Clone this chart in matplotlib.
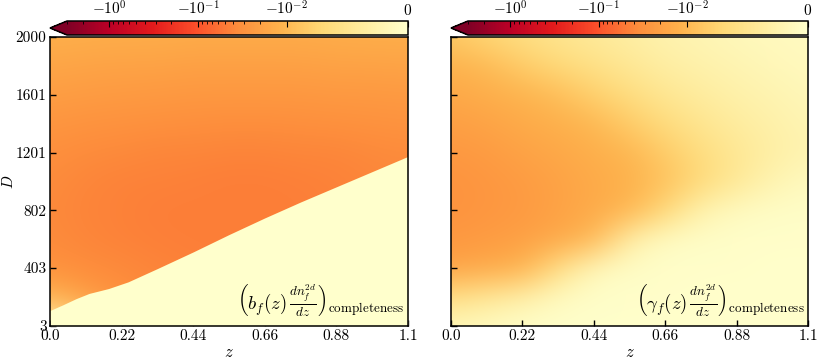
import matplotlib
matplotlib.use("Agg")
import matplotlib.pyplot as plt
from matplotlib.colors import SymLogNorm
import numpy as np

plt.rcParams["font.family"] = "serif"
plt.rcParams["font.serif"] = ["cmr10", "DejaVu Serif"]
plt.rcParams["mathtext.fontset"] = "cm"
plt.rcParams["axes.unicode_minus"] = False
plt.rcParams["axes.formatter.use_mathtext"] = True

# grid nodes
z_nodes = [0.0, 0.11, 0.22, 0.33, 0.44, 0.55, 0.66, 0.77, 0.88, 0.99, 1.1]
D_nodes = [3, 203, 403, 602, 802, 1002, 1201, 1401, 1601, 1800, 2000]

# b_f(z) dn/dz, rows = D (low -> high), cols = z
bias_vals = [
    [-0.001, -0.006, -0.018, -0.030, -0.037, -0.043, -0.045, -0.045, -0.044, -0.042, -0.040],
    [-0.011, -0.022, -0.032, -0.038, -0.042, -0.045, -0.046, -0.046, -0.044, -0.042, -0.040],
    [-0.031, -0.035, -0.038, -0.042, -0.044, -0.046, -0.047, -0.046, -0.044, -0.042, -0.040],
    [-0.036, -0.040, -0.043, -0.045, -0.046, -0.047, -0.047, -0.046, -0.044, -0.042, -0.040],
    [-0.038, -0.042, -0.044, -0.046, -0.047, -0.047, -0.047, -0.046, -0.044, -0.042, -0.040],
    [-0.037, -0.040, -0.043, -0.044, -0.045, -0.046, -0.046, -0.045, -0.043, -0.041, -0.039],
    [-0.033, -0.036, -0.038, -0.040, -0.041, -0.042, -0.042, -0.041, -0.040, -0.038, -0.036],
    [-0.028, -0.030, -0.031, -0.032, -0.033, -0.034, -0.034, -0.033, -0.032, -0.031, -0.030],
    [-0.022, -0.023, -0.024, -0.025, -0.026, -0.026, -0.026, -0.026, -0.025, -0.025, -0.024],
    [-0.017, -0.018, -0.019, -0.019, -0.020, -0.020, -0.020, -0.020, -0.019, -0.019, -0.018],
    [-0.013, -0.0135, -0.014, -0.014, -0.0145, -0.0145, -0.0145, -0.0145, -0.014, -0.0135, -0.0135],
]

# gamma_f(z) dn/dz
gamma_vals = [
    [-0.0015, -0.001, -0.0004, -0.0003, -0.0002, -0.0002, -0.0002, -0.0001, -0.0001, -0.0001, -0.0001],
    [-0.006, -0.0045, -0.003, -0.001, -0.0004, -0.0003, -0.0003, -0.0002, -0.0002, -0.0002, -0.0002],
    [-0.018, -0.015, -0.012, -0.006, -0.0015, -0.0006, -0.0004, -0.0003, -0.0003, -0.0002, -0.0002],
    [-0.026, -0.023, -0.020, -0.016, -0.010, -0.003, -0.0008, -0.0005, -0.0004, -0.0003, -0.0003],
    [-0.030, -0.027, -0.024, -0.019, -0.015, -0.011, -0.007, -0.0025, -0.001, -0.0006, -0.0005],
    [-0.030, -0.027, -0.023, -0.019, -0.015, -0.012, -0.0092, -0.0068, -0.0045, -0.0022, -0.0012],
    [-0.026, -0.023, -0.019, -0.016, -0.013, -0.0105, -0.0082, -0.0062, -0.0046, -0.0032, -0.0022],
    [-0.021, -0.018, -0.015, -0.0125, -0.0102, -0.0082, -0.0064, -0.0049, -0.0037, -0.0028, -0.002],
    [-0.016, -0.0135, -0.0112, -0.0095, -0.0078, -0.0062, -0.0047, -0.0037, -0.0028, -0.0022, -0.0016],
    [-0.0115, -0.0098, -0.0082, -0.0068, -0.0057, -0.0045, -0.0034, -0.0027, -0.0021, -0.0016, -0.0012],
    [-0.0085, -0.0072, -0.006, -0.005, -0.0041, -0.0033, -0.0025, -0.002, -0.0015, -0.0012, -0.001],
]

# completeness limit of the b_f panel
cut_z = [0.0, 0.04, 0.08, 0.12, 0.18, 0.24, 0.33, 0.44, 0.55, 0.66, 0.77, 0.88, 0.99, 1.1]
cut_D = [110, 150, 192, 228, 262, 308, 400, 515, 635, 750, 860, 965, 1070, 1175]

x_ticks = [0.0, 0.22, 0.44, 0.66, 0.88, 1.1]
x_labels = ["0.0", "0.22", "0.44", "0.66", "0.88", "1.1"]
y_ticks = [3, 403, 802, 1201, 1601, 2000]
y_labels = ["3", "403", "802", "1201", "1601", "2000"]

cb_ticks = [-1, -0.1, -0.01, 0]
cb_labels = [r"$-10^{0}$", r"$-10^{-1}$", r"$-10^{-2}$", r"$0$"]
cb_minor = [-3, -2, -0.9, -0.8, -0.7, -0.6, -0.5, -0.4, -0.3, -0.2,
            -0.09, -0.08, -0.07, -0.06, -0.05, -0.04, -0.03, -0.02]

labels = [r"$\left(b_f(z)\,\frac{dn_f^{2d}}{dz}\right)_{\rm completeness}$",
          r"$\left(\gamma_f(z)\,\frac{dn_f^{2d}}{dz}\right)_{\rm completeness}$"]

cmap = plt.get_cmap("YlOrRd_r")
norm = SymLogNorm(linthresh=0.01, linscale=1.23, vmin=-3, vmax=0, base=10)

W, H = 817, 363
fig = plt.figure(figsize=(W / 100, H / 100), dpi=100)


def px_box(x0, y0, x1, y1):
    return [x0 / W, 1 - y1 / H, (x1 - x0) / W, (y1 - y0) / H]


def draw_panel(ax, cax, vals, text, first):
    dz = z_nodes[1] - z_nodes[0]
    dD = (D_nodes[-1] - D_nodes[0]) / (len(D_nodes) - 1)
    ext = [z_nodes[0] - dz / 2, z_nodes[-1] + dz / 2,
           D_nodes[0] - dD / 2, D_nodes[-1] + dD / 2]
    im = ax.imshow(np.array(vals), origin="lower", extent=ext, aspect="auto",
                   cmap=cmap, norm=norm, interpolation="bicubic",
                   interpolation_stage="rgba")
    ax.set_xlim(0, 1.1)
    ax.set_ylim(3, 2000)
    ax.set_xticks(x_ticks)
    ax.set_xticklabels(x_labels)
    ax.set_yticks(y_ticks)
    if first:
        ax.set_yticklabels(y_labels)
        ax.set_ylabel(r"$D$", fontsize=11)
        ax.yaxis.set_label_coords(-0.095, 0.5)
    else:
        ax.set_yticklabels([])
    ax.set_xlabel(r"$z$", fontsize=12, labelpad=1)
    ax.tick_params(direction="in", length=4, width=1, labelsize=11, pad=2.5)
    for s in ax.spines.values():
        s.set_linewidth(1.1)
    ax.text(0.99, 0.025, text, transform=ax.transAxes, ha="right", va="bottom",
            fontsize=13.5, zorder=5)

    cb = fig.colorbar(im, cax=cax, orientation="horizontal", extend="min")
    cb.set_ticks(cb_ticks)
    cb.set_ticklabels(cb_labels)
    cb.set_ticks(cb_minor, minor=True)
    cb.ax.xaxis.set_ticks_position("top")
    cb.ax.tick_params(which="major", direction="in", length=4, width=0.8,
                      labelsize=11, pad=2.5)
    cb.ax.tick_params(which="minor", direction="in", length=2.5, width=0.6)
    cb.outline.set_linewidth(1.1)
    return im


ax1 = fig.add_axes(px_box(50, 37, 408, 326))
ax2 = fig.add_axes(px_box(451, 37, 808, 326))
cax1 = fig.add_axes(px_box(50, 21, 408, 35))
cax2 = fig.add_axes(px_box(451, 21, 808, 35))

draw_panel(ax1, cax1, bias_vals, labels[0], True)
ax1.fill_between(cut_z, 3, cut_D, color=cmap(norm(0.0)), lw=0, zorder=2)
draw_panel(ax2, cax2, gamma_vals, labels[1], False)

fig.savefig("out.png", dpi=100)
